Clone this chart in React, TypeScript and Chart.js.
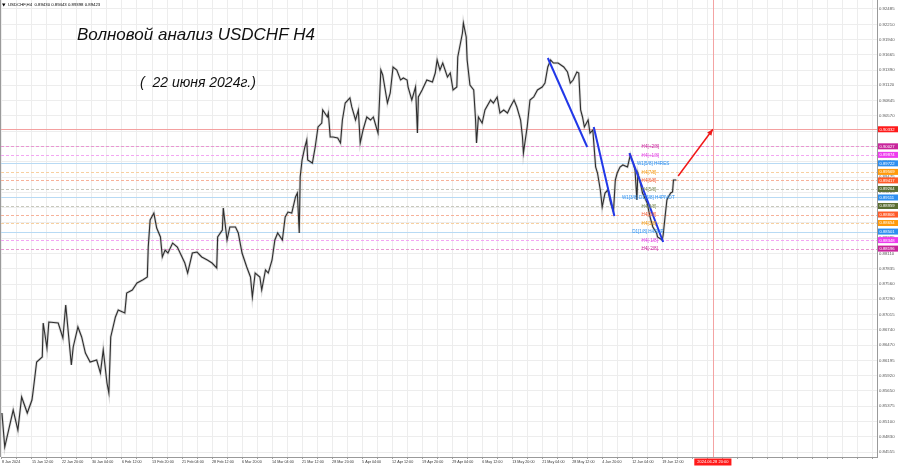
import { useEffect, useRef } from 'react';
import { Chart, registerables } from 'chart.js';

Chart.register(...registerables);

// ---- price path (H4 bar index, price) ----
const priceBars = [0,3,12,17,21,27,32,33,37,43,44,48,50,60,65,68,74,76,81,85,89,94,101,105,108,112,114,116,121,124,131,133,139,144,150,155,156,158,162,165,169,171,174,177,182,187,192,195,198,203,208,213,219,224,229,230,235,236,240,243,249,252,256,261,265,267,270,275,277,281,284,288,291,294,299,302,305,309,313,315,317,318,320,323,325,326,331,334,337,341,342,347,348,350,353,358,361,363,366,371,373,377,380,382,385,389,393,396,400,401,404,406,411,414,417,421,425,428,432,433,437,441,443,444,448,453,459,462,464,467,470,475,478,481,485,486,491,492,495,496,499,503,505,506,508,512,515,521,524,528,531,535,539,542,546,549,553,555,556,560,563,567,571,576,579,582,585,588,593,599,603,606,609,613,615,617,619,621,625,627,630,633,635,638,640,643,646,649,652,654,656,659,662,667,670,673,675,677,678,680,683,688,691,694,698,699,704,705,707,709,710,713,715,716,719];
const prices = [0.85253,0.84645,0.85307,0.84949,0.8554,0.85253,0.85486,0.85611,0.86166,0.86256,0.86864,0.86417,0.86882,0.86864,0.86596,0.87187,0.86113,0.86435,0.86793,0.86614,0.86327,0.86166,0.86202,0.85969,0.86381,0.8579,0.85611,0.86614,0.86972,0.87097,0.87043,0.87401,0.87455,0.8758,0.87634,0.87688,0.88225,0.88708,0.88833,0.88565,0.88404,0.88046,0.88171,0.88117,0.88296,0.88225,0.88046,0.87938,0.87759,0.88117,0.88135,0.88046,0.87992,0.87938,0.87849,0.88404,0.88529,0.88923,0.8835,0.88583,0.88583,0.88475,0.88117,0.87867,0.87688,0.8733,0.87759,0.87688,0.87455,0.87813,0.87759,0.87992,0.8835,0.88475,0.8835,0.88762,0.88851,0.88833,0.8912,0.89191,0.88475,0.89478,0.89782,0.90015,0.9014,0.89782,0.89728,0.90015,0.90373,0.90444,0.90677,0.90552,0.90623,0.90194,0.90194,0.90176,0.90086,0.90498,0.90802,0.90892,0.90731,0.90498,0.90677,0.90086,0.90319,0.90552,0.90498,0.90552,0.90319,0.90265,0.91393,0.91304,0.90802,0.90981,0.91447,0.91393,0.91214,0.9125,0.91214,0.91089,0.90856,0.91089,0.90265,0.9091,0.91035,0.91214,0.91178,0.91339,0.91572,0.91393,0.91518,0.91268,0.91339,0.91035,0.91089,0.91626,0.92055,0.92234,0.91984,0.91572,0.91125,0.91035,0.90498,0.90086,0.90552,0.90444,0.90677,0.90856,0.90802,0.9091,0.90623,0.90677,0.90623,0.90731,0.90856,0.90731,0.90498,0.90194,0.89907,0.90373,0.90856,0.9091,0.91035,0.91089,0.9116,0.91447,0.91572,0.91518,0.91518,0.91447,0.91357,0.9116,0.91214,0.91357,0.91339,0.90677,0.90552,0.90373,0.90498,0.90265,0.90319,0.89657,0.89549,0.89245,0.88941,0.89191,0.89245,0.89012,0.88851,0.89424,0.89549,0.89657,0.89693,0.89657,0.89872,0.89728,0.89603,0.89066,0.89549,0.89424,0.89191,0.89012,0.88762,0.88583,0.88475,0.88404,0.8835,0.8844,0.88762,0.89066,0.89102,0.89191,0.89209,0.89424,0.89423];

// ---- wave lines and forecast arrow ----
const wave1Bars = [582, 624];
const wave1Prices = [0.91608, 0.90015];
const wave2Bars = [631, 653];
const wave2Prices = [0.90373, 0.8878];
const wave3Bars = [669, 705];
const wave3Prices = [0.89907, 0.88314];
const arrowBars = [721, 758];
const arrowPrices = [0.89496, 0.90332];

// ---- axes ----
const xTickLabels = ['8 Jan 2024','15 Jan 12:00','22 Jan 20:00','30 Jan 04:00','6 Feb 12:00','13 Feb 20:00','21 Feb 04:00','28 Feb 12:00','6 Mar 20:00','14 Mar 04:00','21 Mar 12:00','28 Mar 20:00','5 Apr 04:00','12 Apr 12:00','19 Apr 20:00','29 Apr 04:00','6 May 12:00','13 May 20:00','21 May 04:00','28 May 12:00','4 Jun 20:00','12 Jun 04:00','19 Jun 12:00'];
const barsPerLabel = 32;
const barsPerGrid = 16;
const xMin = -1;
const xMax = 933;
const yTickValues = [0.92485,0.9221,0.9194,0.91665,0.9139,0.9112,0.90845,0.9057,0.903,0.90025,0.8975,0.89475,0.89205,0.8893,0.88655,0.88385,0.8811,0.87835,0.8756,0.8729,0.87015,0.8674,0.8647,0.86195,0.8592,0.8565,0.85375,0.851,0.8483,0.84555];
const yMin = 0.84466;
const yMax = 0.92646;

// ---- Murrey levels ----
const levelValues = [0.90332,0.90027,0.89874,0.89722,0.89569,0.89417,0.89264,0.89111,0.88959,0.88806,0.88654,0.88501,0.88348,0.88196];
const levelNames = ['','H4[+2/8]','H4[+1/8]','W1[5/8] H4RES','H4[7/8]','H4[6/8]','H4[5/8]','W1[3/8] D1[5/8] H4PIVOT','H4[3/8]','H4[2/8]','H4[1/8]','D1[1/8] H4SUP','H4[-1/8]','H4[-2/8]'];
const levelNameBars = [0,682,682,677,682,682,682,661,682,682,682,672,682,682];
const levelLineColors = ['#f4a0a0','#e996d2','#f3a6f3','#b8daf4','#f8d0a0','#f7b29a','#c8c8bc','#b8daf4','#c8c8bc','#f7b29a','#f8d0a0','#b8daf4','#f3a6f3','#e996d2'];
const levelDashed = [false,true,true,false,true,true,true,false,true,true,true,false,true,true];
const levelBoxColors = ['#ff1a1a','#c8259b','#ee3cee','#2d8ff0','#ff9a0a','#ff5a28','#5a6e32','#2d8ff0','#5a6e32','#ff5a28','#ff9a0a','#2d8ff0','#ee3cee','#c8259b'];
const levelTextColors = ['#ff1a1a','#c8259b','#e040e0','#2d8ff0','#f59a10','#f2603a','#7f8f5a','#2d8ff0','#7f8f5a','#f2603a','#f59a10','#2d8ff0','#e040e0','#c8259b'];

const futureBar = 758;
const futureLabel = '2024.06.28 20:00';

const symbolText = 'USDCHF,H4';
const ohlc = [0.8943, 0.89443, 0.89398, 0.89423];
const titleText = 'Волновой анализ USDCHF H4';
const subtitleText = '(  22 июня 2024г.)';

const SMALL = '"Liberation Sans", Arial, sans-serif';

const overlay = {
  id: 'overlay',
  beforeDatasetsDraw(chart: any) {
    const { ctx, chartArea: a, scales } = chart;
    const x = scales.x, y = scales.y;
    ctx.save();
    levelValues.forEach((v, i) => {
      const py = Math.round(y.getPixelForValue(v)) + 0.5;
      ctx.strokeStyle = levelLineColors[i];
      ctx.lineWidth = 1;
      ctx.setLineDash(levelDashed[i] ? [3, 2] : []);
      ctx.beginPath();
      ctx.moveTo(a.left, py);
      ctx.lineTo(a.right, py);
      ctx.stroke();
    });
    ctx.setLineDash([]);
    const fx = Math.round(x.getPixelForValue(futureBar)) + 0.5;
    ctx.strokeStyle = '#f4a3a3';
    ctx.beginPath();
    ctx.moveTo(fx, a.top);
    ctx.lineTo(fx, a.bottom);
    ctx.stroke();
    ctx.restore();
  },
  afterDatasetsDraw(chart: any) {
    const { ctx, scales } = chart;
    const x = scales.x, y = scales.y;
    ctx.save();
    ctx.font = '4.6px ' + SMALL;
    ctx.textBaseline = 'middle';
    ctx.textAlign = 'left';
    levelValues.forEach((v, i) => {
      if (!levelNames[i]) return;
      ctx.fillStyle = levelTextColors[i];
      ctx.fillText(levelNames[i], x.getPixelForValue(levelNameBars[i]), y.getPixelForValue(v) + 0.5);
    });
    // arrow head
    const x1 = x.getPixelForValue(arrowBars[0]), y1 = y.getPixelForValue(arrowPrices[0]);
    const x2 = x.getPixelForValue(arrowBars[1]), y2 = y.getPixelForValue(arrowPrices[1]);
    const ang = Math.atan2(y2 - y1, x2 - x1);
    const L = 6, W = 2.6;
    ctx.fillStyle = '#f01818';
    ctx.beginPath();
    ctx.moveTo(x2, y2);
    ctx.lineTo(x2 - L * Math.cos(ang) + W * Math.sin(ang), y2 - L * Math.sin(ang) - W * Math.cos(ang));
    ctx.lineTo(x2 - L * Math.cos(ang) - W * Math.sin(ang), y2 - L * Math.sin(ang) + W * Math.cos(ang));
    ctx.closePath();
    ctx.fill();
    ctx.restore();
  },
  afterDraw(chart: any) {
    const { ctx, chartArea: a, scales } = chart;
    const x = scales.x, y = scales.y;
    ctx.save();
    // left frame
    ctx.strokeStyle = '#9a9a9a';
    ctx.lineWidth = 1;
    ctx.beginPath();
    ctx.moveTo(a.left - 0.5, a.top);
    ctx.lineTo(a.left - 0.5, a.bottom);
    ctx.stroke();
    // level boxes on price axis
    ctx.font = '4.2px ' + SMALL;
    ctx.textBaseline = 'middle';
    ctx.textAlign = 'left';
    levelValues.forEach((v, i) => {
      const py = y.getPixelForValue(v);
      ctx.fillStyle = levelBoxColors[i];
      ctx.fillRect(a.right + 1, py - 3, 20, 6);
      ctx.fillStyle = '#ffffff';
      ctx.fillText(v.toFixed(5), a.right + 2.5, py + 0.3);
    });
    // future date box
    const fx = x.getPixelForValue(futureBar);
    ctx.font = '4px ' + SMALL;
    const tw = ctx.measureText(futureLabel).width;
    ctx.fillStyle = '#ff1a1a';
    ctx.fillRect(fx - tw / 2 - 3, a.bottom + 1.5, tw + 6, 7);
    ctx.fillStyle = '#ffffff';
    ctx.textAlign = 'center';
    ctx.fillText(futureLabel, fx, a.bottom + 5.2);
    // header
    ctx.fillStyle = '#000';
    ctx.beginPath();
    ctx.moveTo(2, 3.5);
    ctx.lineTo(5.5, 3.5);
    ctx.lineTo(3.75, 6.5);
    ctx.closePath();
    ctx.fill();
    ctx.font = '4.3px ' + SMALL;
    ctx.textAlign = 'left';
    ctx.textBaseline = 'middle';
    ctx.fillText(symbolText + '  ' + ohlc.map((v) => v.toFixed(5)).join(' '), 8, 5.2);
    // title
    ctx.textBaseline = 'alphabetic';
    ctx.font = 'italic 17px "Liberation Sans", Arial, sans-serif';
    ctx.fillStyle = '#111';
    ctx.fillText(titleText, 77, 40);
    ctx.font = 'italic 14px "Liberation Sans", Arial, sans-serif';
    ctx.fillText(subtitleText, 140, 87);
    ctx.restore();
  },
};

export default function App() {
  const ref = useRef<HTMLCanvasElement | null>(null);
  useEffect(() => {
    if (!ref.current) return;
    const pricePts = priceBars.map((b, i) => ({ x: b, y: prices[i] }));
    const mk = (bars: number[], vals: number[]) => bars.map((b, i) => ({ x: b, y: vals[i] }));
    const chart = new Chart(ref.current, {
      type: 'line',
      data: {
        datasets: [
          { data: mk(wave1Bars, wave1Prices), borderColor: '#2238e8', borderWidth: 2, pointRadius: 0, order: 0 },
          { data: mk(wave2Bars, wave2Prices), borderColor: '#2238e8', borderWidth: 2, pointRadius: 0, order: 0 },
          { data: mk(wave3Bars, wave3Prices), borderColor: '#2238e8', borderWidth: 2, pointRadius: 0, order: 0 },
          { data: mk(arrowBars, arrowPrices), borderColor: '#f01818', borderWidth: 1.5, pointRadius: 0, order: 0 },
          { data: pricePts, borderColor: '#2e2e2e', borderWidth: 1.1, pointRadius: 0, tension: 0, order: 1 },
          { data: pricePts, borderColor: 'rgba(120,120,120,0.28)', borderWidth: 2.6, pointRadius: 0, tension: 0, order: 2 },
        ],
      },
      options: {
        animation: false,
        responsive: false,
        layout: { padding: { left: 1, top: 0, right: 0, bottom: 0 } },
        plugins: { legend: { display: false }, tooltip: { enabled: false } },
        scales: {
          x: {
            type: 'linear',
            min: xMin,
            max: xMax,
            afterBuildTicks: (s: any) => {
              const t: any[] = [];
              for (let v = 0; v <= xMax; v += barsPerGrid) t.push({ value: v });
              s.ticks = t;
            },
            afterFit: (s: any) => { s.height = 11; s.paddingLeft = 0; s.paddingRight = 0; },
            ticks: {
              autoSkip: false,
              maxRotation: 0,
              minRotation: 0,
              align: 'start',
              padding: 1,
              color: '#333',
              font: { family: SMALL, size: 3.7 },
              callback: (v: any) => {
                const k = Number(v) / barsPerLabel;
                return Number.isInteger(k) && k < xTickLabels.length ? xTickLabels[k] : '';
              },
            },
            grid: { color: '#ededed', tickLength: 2, tickColor: '#a0a0a0' },
            border: { color: '#9a9a9a' },
          },
          y: {
            type: 'linear',
            position: 'right',
            min: yMin,
            max: yMax,
            afterBuildTicks: (s: any) => { s.ticks = yTickValues.map((v) => ({ value: v })); },
            afterFit: (s: any) => { s.width = 23; s.paddingTop = 0; s.paddingBottom = 0; },
            ticks: {
              autoSkip: false,
              padding: 2,
              color: '#555',
              font: { family: SMALL, size: 4.3 },
              callback: (v: any) => Number(v).toFixed(5),
            },
            grid: { color: '#ededed', drawTicks: false },
            border: { color: '#9a9a9a' },
          },
        },
      },
      plugins: [overlay],
    } as any);
    return () => chart.destroy();
  }, []);
  return (
    <div style={{ position: 'fixed', left: 0, top: 0, width: 900, height: 468, background: '#fff' }}>
      <canvas ref={ref} width={900} height={468} style={{ display: 'block' }} />
    </div>
  );
}
